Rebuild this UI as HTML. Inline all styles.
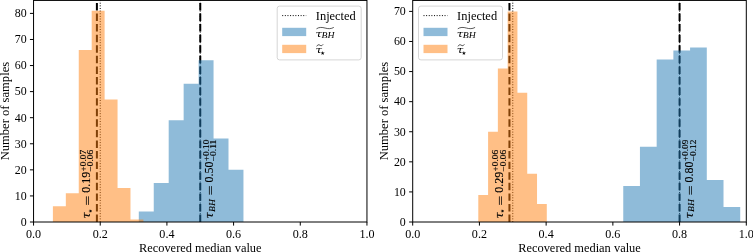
<!DOCTYPE html>
<html><head><meta charset="utf-8"><title>Recovered median value</title>
<style>html,body{margin:0;padding:0;background:#fff}svg{display:block}</style></head><body>
<svg width="753" height="252" viewBox="0 0 753 252">
<rect width="753" height="252" fill="#fff"/>
<line x1="96.90" y1="222.0" x2="96.90" y2="0.42" stroke="#000" stroke-width="2" stroke-dasharray="7.45 3.13"/>
<line x1="100.23" y1="222.0" x2="100.23" y2="0.42" stroke="#000" stroke-width="1" stroke-dasharray="1 1.63"/>
<line x1="200.25" y1="222.0" x2="200.25" y2="0.42" stroke="#000" stroke-width="2" stroke-dasharray="7.45 3.13"/>
<line x1="200.25" y1="222.0" x2="200.25" y2="0.42" stroke="#000" stroke-width="1" stroke-dasharray="1 1.63"/>
<path d="M138.80 222.0V211.57H153.75V182.89H168.70V120.31H183.65V83.80H198.60V60.34H213.55V138.56H228.50V169.85H243.45V222.0Z" fill="#1f77b4" fill-opacity="0.5"/>
<path d="M52.90 222.0V206.35H65.83V193.32H78.76V49.91H91.69V10.79H104.62V99.45H117.55V188.10H130.48V219.39H143.41V222.0Z" fill="#ff7f0e" fill-opacity="0.5"/>
<g transform="translate(90.40,218.00) rotate(-90)" font-family="Liberation Serif, serif" fill="#000" stroke="#000" stroke-width="0.15" stroke-linejoin="round"><text x="-0.4" y="0" font-family="DejaVu Serif, Liberation Serif, serif" font-style="italic" font-size="10.4" textLength="6.2" lengthAdjust="spacingAndGlyphs">τ</text><text x="4.8" y="1.4" font-size="4.9" stroke="none" font-family="DejaVu Sans, sans-serif">★</text><text x="12.50" y="1.9" font-size="12" textLength="9.8" lengthAdjust="spacingAndGlyphs">=</text><text x="25.30" y="0" font-size="12" textLength="21" lengthAdjust="spacingAndGlyphs">0.19</text><text x="46.60" y="-4.6" font-size="8.2" textLength="21.5" lengthAdjust="spacingAndGlyphs">+0.07</text><text x="46.60" y="2.8" font-size="8.2" textLength="21.5" lengthAdjust="spacingAndGlyphs">−0.06</text></g>
<g transform="translate(213.40,218.00) rotate(-90)" font-family="Liberation Serif, serif" fill="#000" stroke="#000" stroke-width="0.15" stroke-linejoin="round"><text x="-0.4" y="0" font-family="DejaVu Serif, Liberation Serif, serif" font-style="italic" font-size="10.4" textLength="6.2" lengthAdjust="spacingAndGlyphs">τ</text><text x="6.1" y="1.5" font-size="8.8" font-style="italic" stroke-width="0.1" textLength="12.7" lengthAdjust="spacingAndGlyphs">BH</text><text x="22.70" y="1.9" font-size="12" textLength="9.8" lengthAdjust="spacingAndGlyphs">=</text><text x="35.50" y="0" font-size="12" textLength="21" lengthAdjust="spacingAndGlyphs">0.50</text><text x="56.80" y="-4.6" font-size="8.2" textLength="21.5" lengthAdjust="spacingAndGlyphs">+0.10</text><text x="56.80" y="2.8" font-size="8.2" textLength="21.5" lengthAdjust="spacingAndGlyphs">−0.11</text></g>
<rect x="33.55" y="0.42" width="333.40" height="221.58" fill="none" stroke="#000" stroke-width="1"/>
<line x1="33.55" y1="222.0" x2="33.55" y2="225.60" stroke="#000" stroke-width="1"/>
<text x="33.55" y="237.5" text-anchor="middle" font-size="12.1" font-family="Liberation Serif, serif">0.0</text>
<line x1="100.23" y1="222.0" x2="100.23" y2="225.60" stroke="#000" stroke-width="1"/>
<text x="100.23" y="237.5" text-anchor="middle" font-size="12.1" font-family="Liberation Serif, serif">0.2</text>
<line x1="166.91" y1="222.0" x2="166.91" y2="225.60" stroke="#000" stroke-width="1"/>
<text x="166.91" y="237.5" text-anchor="middle" font-size="12.1" font-family="Liberation Serif, serif">0.4</text>
<line x1="233.59" y1="222.0" x2="233.59" y2="225.60" stroke="#000" stroke-width="1"/>
<text x="233.59" y="237.5" text-anchor="middle" font-size="12.1" font-family="Liberation Serif, serif">0.6</text>
<line x1="300.27" y1="222.0" x2="300.27" y2="225.60" stroke="#000" stroke-width="1"/>
<text x="300.27" y="237.5" text-anchor="middle" font-size="12.1" font-family="Liberation Serif, serif">0.8</text>
<line x1="366.95" y1="222.0" x2="366.95" y2="225.60" stroke="#000" stroke-width="1"/>
<text x="366.95" y="237.5" text-anchor="middle" font-size="12.1" font-family="Liberation Serif, serif">1.0</text>
<line x1="33.55" y1="222.00" x2="29.95" y2="222.00" stroke="#000" stroke-width="1"/>
<text x="26.65" y="225.80" text-anchor="end" font-size="11.9" font-family="Liberation Serif, serif">0</text>
<line x1="33.55" y1="195.93" x2="29.95" y2="195.93" stroke="#000" stroke-width="1"/>
<text x="26.65" y="199.73" text-anchor="end" font-size="11.9" font-family="Liberation Serif, serif">10</text>
<line x1="33.55" y1="169.85" x2="29.95" y2="169.85" stroke="#000" stroke-width="1"/>
<text x="26.65" y="173.65" text-anchor="end" font-size="11.9" font-family="Liberation Serif, serif">20</text>
<line x1="33.55" y1="143.78" x2="29.95" y2="143.78" stroke="#000" stroke-width="1"/>
<text x="26.65" y="147.58" text-anchor="end" font-size="11.9" font-family="Liberation Serif, serif">30</text>
<line x1="33.55" y1="117.70" x2="29.95" y2="117.70" stroke="#000" stroke-width="1"/>
<text x="26.65" y="121.50" text-anchor="end" font-size="11.9" font-family="Liberation Serif, serif">40</text>
<line x1="33.55" y1="91.62" x2="29.95" y2="91.62" stroke="#000" stroke-width="1"/>
<text x="26.65" y="95.42" text-anchor="end" font-size="11.9" font-family="Liberation Serif, serif">50</text>
<line x1="33.55" y1="65.55" x2="29.95" y2="65.55" stroke="#000" stroke-width="1"/>
<text x="26.65" y="69.35" text-anchor="end" font-size="11.9" font-family="Liberation Serif, serif">60</text>
<line x1="33.55" y1="39.47" x2="29.95" y2="39.47" stroke="#000" stroke-width="1"/>
<text x="26.65" y="43.27" text-anchor="end" font-size="11.9" font-family="Liberation Serif, serif">70</text>
<line x1="33.55" y1="13.40" x2="29.95" y2="13.40" stroke="#000" stroke-width="1"/>
<text x="26.65" y="17.20" text-anchor="end" font-size="11.9" font-family="Liberation Serif, serif">80</text>
<text x="200.25" y="251.8" text-anchor="middle" font-size="11.9" textLength="122.6" lengthAdjust="spacingAndGlyphs" font-family="Liberation Serif, serif">Recovered median value</text>
<text transform="translate(8.55,111.11) rotate(-90)" text-anchor="middle" font-size="12.2" textLength="98.4" lengthAdjust="spacingAndGlyphs" font-family="Liberation Serif, serif">Number of samples</text>
<rect x="277.20" y="6.1" width="84" height="53.8" rx="2.4" fill="#fff" fill-opacity="0.8" stroke="#ccc" stroke-opacity="0.8" stroke-width="1"/>
<line x1="282.20" y1="15.6" x2="306.20" y2="15.6" stroke="#000" stroke-width="1" stroke-dasharray="1 1.63"/>
<rect x="282.20" y="27.8" width="24" height="8.3" fill="#1f77b4" fill-opacity="0.5"/>
<rect x="282.20" y="44.8" width="24" height="8.3" fill="#ff7f0e" fill-opacity="0.5"/>
<text x="315.80" y="20" font-size="11.9" textLength="40" lengthAdjust="spacingAndGlyphs" font-family="Liberation Serif, serif">Injected</text>
<text x="315.40" y="36.7" font-family="DejaVu Serif, Liberation Serif, serif" font-style="italic" font-size="9.7" textLength="6.5" lengthAdjust="spacingAndGlyphs">τ</text>
<text x="321.50" y="38.4" font-size="8.8" font-style="italic" textLength="13.0" lengthAdjust="spacingAndGlyphs" font-family="Liberation Serif, serif">BH</text>
<path d="M316.50 28.8 C319.00 27.0 322.20 27.2 325.10 28.05 S331.20 29.0 333.80 27.4" fill="none" stroke="#000" stroke-width="0.65"/>
<text x="315.40" y="53.2" font-family="DejaVu Serif, Liberation Serif, serif" font-style="italic" font-size="9.7" textLength="6.5" lengthAdjust="spacingAndGlyphs">τ</text>
<text x="320.20" y="54.9" font-size="5.4" font-family="DejaVu Sans, sans-serif">★</text>
<path d="M316.70 46.4 C317.50 44.7 318.80 44.4 319.90 45.2 C321.00 46.0 322.10 45.8 323.10 44.4" fill="none" stroke="#000" stroke-width="0.7"/>
<line x1="509.44" y1="222.0" x2="509.44" y2="0.42" stroke="#000" stroke-width="2" stroke-dasharray="7.45 3.13"/>
<line x1="512.78" y1="222.0" x2="512.78" y2="0.42" stroke="#000" stroke-width="1" stroke-dasharray="1 1.63"/>
<line x1="679.58" y1="222.0" x2="679.58" y2="0.42" stroke="#000" stroke-width="2" stroke-dasharray="7.45 3.13"/>
<line x1="679.58" y1="222.0" x2="679.58" y2="0.42" stroke="#000" stroke-width="1" stroke-dasharray="1 1.63"/>
<path d="M623.25 222.0V185.90H639.96V146.78H656.67V59.54H673.38V50.51H690.09V47.50H706.80V179.88H723.51V206.96H740.22V222.0Z" fill="#1f77b4" fill-opacity="0.5"/>
<path d="M478.30 222.0V194.92H488.09V131.74H497.87V68.56H507.66V11.40H517.44V92.63H527.23V173.86H537.02V203.95H546.80V222.0Z" fill="#ff7f0e" fill-opacity="0.5"/>
<g transform="translate(503.00,218.00) rotate(-90)" font-family="Liberation Serif, serif" fill="#000" stroke="#000" stroke-width="0.15" stroke-linejoin="round"><text x="-0.4" y="0" font-family="DejaVu Serif, Liberation Serif, serif" font-style="italic" font-size="10.4" textLength="6.2" lengthAdjust="spacingAndGlyphs">τ</text><text x="4.8" y="1.4" font-size="4.9" stroke="none" font-family="DejaVu Sans, sans-serif">★</text><text x="12.50" y="1.9" font-size="12" textLength="9.8" lengthAdjust="spacingAndGlyphs">=</text><text x="25.30" y="0" font-size="12" textLength="21" lengthAdjust="spacingAndGlyphs">0.29</text><text x="46.60" y="-4.6" font-size="8.2" textLength="21.5" lengthAdjust="spacingAndGlyphs">+0.06</text><text x="46.60" y="2.8" font-size="8.2" textLength="21.5" lengthAdjust="spacingAndGlyphs">−0.06</text></g>
<g transform="translate(692.70,218.00) rotate(-90)" font-family="Liberation Serif, serif" fill="#000" stroke="#000" stroke-width="0.15" stroke-linejoin="round"><text x="-0.4" y="0" font-family="DejaVu Serif, Liberation Serif, serif" font-style="italic" font-size="10.4" textLength="6.2" lengthAdjust="spacingAndGlyphs">τ</text><text x="6.1" y="1.5" font-size="8.8" font-style="italic" stroke-width="0.1" textLength="12.7" lengthAdjust="spacingAndGlyphs">BH</text><text x="22.70" y="1.9" font-size="12" textLength="9.8" lengthAdjust="spacingAndGlyphs">=</text><text x="35.50" y="0" font-size="12" textLength="21" lengthAdjust="spacingAndGlyphs">0.80</text><text x="56.80" y="-4.6" font-size="8.2" textLength="21.5" lengthAdjust="spacingAndGlyphs">+0.09</text><text x="56.80" y="2.8" font-size="8.2" textLength="21.5" lengthAdjust="spacingAndGlyphs">−0.12</text></g>
<rect x="412.70" y="0.42" width="333.60" height="221.58" fill="none" stroke="#000" stroke-width="1"/>
<line x1="412.70" y1="222.0" x2="412.70" y2="225.60" stroke="#000" stroke-width="1"/>
<text x="412.70" y="237.5" text-anchor="middle" font-size="12.1" font-family="Liberation Serif, serif">0.0</text>
<line x1="479.42" y1="222.0" x2="479.42" y2="225.60" stroke="#000" stroke-width="1"/>
<text x="479.42" y="237.5" text-anchor="middle" font-size="12.1" font-family="Liberation Serif, serif">0.2</text>
<line x1="546.14" y1="222.0" x2="546.14" y2="225.60" stroke="#000" stroke-width="1"/>
<text x="546.14" y="237.5" text-anchor="middle" font-size="12.1" font-family="Liberation Serif, serif">0.4</text>
<line x1="612.86" y1="222.0" x2="612.86" y2="225.60" stroke="#000" stroke-width="1"/>
<text x="612.86" y="237.5" text-anchor="middle" font-size="12.1" font-family="Liberation Serif, serif">0.6</text>
<line x1="679.58" y1="222.0" x2="679.58" y2="225.60" stroke="#000" stroke-width="1"/>
<text x="679.58" y="237.5" text-anchor="middle" font-size="12.1" font-family="Liberation Serif, serif">0.8</text>
<line x1="746.30" y1="222.0" x2="746.30" y2="225.60" stroke="#000" stroke-width="1"/>
<text x="746.30" y="237.5" text-anchor="middle" font-size="12.1" font-family="Liberation Serif, serif">1.0</text>
<line x1="412.70" y1="222.00" x2="409.10" y2="222.00" stroke="#000" stroke-width="1"/>
<text x="405.80" y="225.80" text-anchor="end" font-size="11.9" font-family="Liberation Serif, serif">0</text>
<line x1="412.70" y1="191.91" x2="409.10" y2="191.91" stroke="#000" stroke-width="1"/>
<text x="405.80" y="195.71" text-anchor="end" font-size="11.9" font-family="Liberation Serif, serif">10</text>
<line x1="412.70" y1="161.83" x2="409.10" y2="161.83" stroke="#000" stroke-width="1"/>
<text x="405.80" y="165.63" text-anchor="end" font-size="11.9" font-family="Liberation Serif, serif">20</text>
<line x1="412.70" y1="131.74" x2="409.10" y2="131.74" stroke="#000" stroke-width="1"/>
<text x="405.80" y="135.54" text-anchor="end" font-size="11.9" font-family="Liberation Serif, serif">30</text>
<line x1="412.70" y1="101.66" x2="409.10" y2="101.66" stroke="#000" stroke-width="1"/>
<text x="405.80" y="105.46" text-anchor="end" font-size="11.9" font-family="Liberation Serif, serif">40</text>
<line x1="412.70" y1="71.57" x2="409.10" y2="71.57" stroke="#000" stroke-width="1"/>
<text x="405.80" y="75.37" text-anchor="end" font-size="11.9" font-family="Liberation Serif, serif">50</text>
<line x1="412.70" y1="41.48" x2="409.10" y2="41.48" stroke="#000" stroke-width="1"/>
<text x="405.80" y="45.28" text-anchor="end" font-size="11.9" font-family="Liberation Serif, serif">60</text>
<line x1="412.70" y1="11.40" x2="409.10" y2="11.40" stroke="#000" stroke-width="1"/>
<text x="405.80" y="15.20" text-anchor="end" font-size="11.9" font-family="Liberation Serif, serif">70</text>
<text x="579.50" y="251.8" text-anchor="middle" font-size="11.9" textLength="122.6" lengthAdjust="spacingAndGlyphs" font-family="Liberation Serif, serif">Recovered median value</text>
<text transform="translate(387.70,111.11) rotate(-90)" text-anchor="middle" font-size="12.2" textLength="98.4" lengthAdjust="spacingAndGlyphs" font-family="Liberation Serif, serif">Number of samples</text>
<rect x="418.50" y="6.1" width="84" height="53.8" rx="2.4" fill="#fff" fill-opacity="0.8" stroke="#ccc" stroke-opacity="0.8" stroke-width="1"/>
<line x1="423.50" y1="15.6" x2="447.50" y2="15.6" stroke="#000" stroke-width="1" stroke-dasharray="1 1.63"/>
<rect x="423.50" y="27.8" width="24" height="8.3" fill="#1f77b4" fill-opacity="0.5"/>
<rect x="423.50" y="44.8" width="24" height="8.3" fill="#ff7f0e" fill-opacity="0.5"/>
<text x="457.10" y="20" font-size="11.9" textLength="40" lengthAdjust="spacingAndGlyphs" font-family="Liberation Serif, serif">Injected</text>
<text x="456.70" y="36.7" font-family="DejaVu Serif, Liberation Serif, serif" font-style="italic" font-size="9.7" textLength="6.5" lengthAdjust="spacingAndGlyphs">τ</text>
<text x="462.80" y="38.4" font-size="8.8" font-style="italic" textLength="13.0" lengthAdjust="spacingAndGlyphs" font-family="Liberation Serif, serif">BH</text>
<path d="M457.80 28.8 C460.30 27.0 463.50 27.2 466.40 28.05 S472.50 29.0 475.10 27.4" fill="none" stroke="#000" stroke-width="0.65"/>
<text x="456.70" y="53.2" font-family="DejaVu Serif, Liberation Serif, serif" font-style="italic" font-size="9.7" textLength="6.5" lengthAdjust="spacingAndGlyphs">τ</text>
<text x="461.50" y="54.9" font-size="5.4" font-family="DejaVu Sans, sans-serif">★</text>
<path d="M458.00 46.4 C458.80 44.7 460.10 44.4 461.20 45.2 C462.30 46.0 463.40 45.8 464.40 44.4" fill="none" stroke="#000" stroke-width="0.7"/>
</svg></body></html>
